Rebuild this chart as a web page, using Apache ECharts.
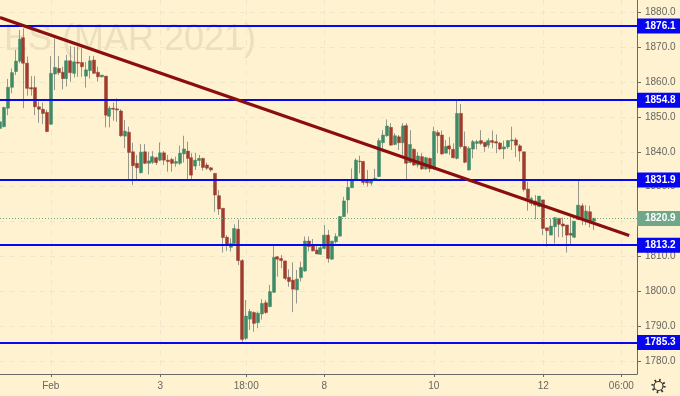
<!DOCTYPE html>
<html>
<head>
<meta charset="utf-8">
<style>html,body{margin:0;padding:0;background:#fff2d0}#c{width:680px;height:396px}</style>
<script src="https://cdn.jsdelivr.net/npm/echarts@6/dist/echarts.min.js"></script>
</head>
<body>
<div id="c"></div>
<script>
const opens = [1846.7,1847.2,1852.5,1858.5,1863.0,1866.0,1872.7,1865.4,1858.4,1858.4,
1852.9,1852.2,1851.3,1847.9,1862.3,1863.9,1862.8,1861.0,1866.1,1862.5,
1865.7,1865.6,1861.7,1863.3,1866.3,1862.8,1861.5,1861.7,1850.2,1852.5,
1852.3,1851.7,1844.5,1845.6,1840.0,1836.7,1834.0,1840.0,1836.7,1837.0,
1838.3,1837.6,1839.7,1837.6,1837.8,1836.7,1836.7,1839.4,1840.2,1838.3,
1835.9,1837.5,1838.1,1836.2,1835.4,1833.8,1827.4,1823.8,1815.5,1812.6,
1813.7,1817.8,1808.8,1786.5,1792.0,1793.9,1791.0,1793.5,1796.7,1795.6,
1799.7,1809.9,1809.4,1808.7,1804.0,1803.2,1800.4,1803.9,1805.8,1814.4,
1813.1,1811.8,1810.6,1812.3,1816.1,1809.2,1814.2,1815.8,1821.4,1826.2,
1829.7,1832.1,1837.3,1837.2,1832.1,1831.0,1832.1,1832.9,1842.6,1844.6,
1847.0,1842.1,1844.3,1842.6,1847.5,1836.9,1840.7,1836.2,1838.6,1835.1,
1838.1,1835.3,1845.5,1844.8,1839.6,1841.7,1840.7,1838.1,1851.0,1841.5,
1834.8,1840.8,1842.4,1843.2,1842.7,1841.9,1843.2,1842.9,1842.5,1840.8,
1841.4,1843.1,1843.4,1841.7,1840.0,1829.3,1825.2,1825.9,1824.3,1826.2,
1818.2,1816.1,1818.5,1820.9,1819.3,1819.0,1816.6,1815.5,1820.6,1824.5,
1820.2,1822.8,1820.1];
const closes = [1848.6,1852.7,1858.5,1862.7,1866.0,1872.3,1865.4,1858.2,1858.0,1852.9,
1852.2,1851.0,1845.8,1862.5,1864.2,1862.7,1861.0,1866.1,1862.7,1865.8,
1865.4,1864.4,1863.5,1866.1,1862.5,1861.5,1862.0,1850.5,1852.5,1852.2,
1852.0,1844.6,1845.9,1839.8,1836.0,1835.4,1839.9,1836.7,1837.4,1838.6,
1836.9,1839.7,1837.6,1837.2,1836.7,1837.2,1839.6,1840.8,1838.1,1833.3,
1837.6,1838.1,1835.5,1835.3,1834.8,1827.6,1823.6,1815.4,1813.3,1813.7,
1818.0,1808.8,1786.2,1792.9,1794.2,1790.8,1793.7,1796.5,1793.9,1799.9,
1809.7,1809.2,1808.8,1803.7,1802.8,1800.6,1803.5,1806.8,1814.4,1812.8,
1811.6,1810.7,1812.5,1816.1,1809.4,1814.4,1815.7,1821.4,1825.9,1829.8,
1832.1,1837.6,1837.2,1831.2,1831.1,1832.1,1832.4,1843.2,1844.8,1847.4,
1841.9,1844.6,1842.6,1847.4,1836.7,1842.1,1836.2,1838.8,1835.1,1838.3,
1835.1,1845.8,1844.6,1839.4,1841.5,1840.8,1838.3,1851.0,1841.5,1837.0,
1841.0,1842.9,1842.9,1842.4,1841.5,1843.2,1842.7,1842.5,1840.8,1841.4,
1843.2,1843.4,1841.9,1840.2,1829.2,1826.6,1826.6,1824.7,1827.3,1818.0,
1817.4,1818.7,1821.1,1819.2,1818.7,1816.1,1816.1,1820.1,1824.7,1820.6,
1823.0,1820.0,1820.9];
const highs = [1849.5,1852.9,1860.9,1863.9,1869.2,1874.9,1875.4,1867.3,1861.7,1861.7,
1854.4,1854.1,1852.0,1867.5,1872.5,1867.5,1864.4,1867.8,1870.3,1870.1,
1870.1,1869.9,1865.8,1867.5,1867.5,1864.4,1862.0,1861.7,1853.1,1854.1,
1855.3,1852.2,1849.1,1847.2,1842.6,1839.1,1842.2,1842.2,1840.0,1840.2,
1838.6,1842.7,1840.2,1839.1,1838.3,1838.6,1841.8,1844.6,1842.9,1839.6,
1839.7,1839.1,1838.3,1836.9,1835.7,1833.8,1829.0,1823.8,1816.1,1815.2,
1819.2,1820.6,1809.2,1797.5,1794.9,1794.2,1794.2,1797.7,1797.5,1801.8,
1813.1,1810.1,1810.4,1808.7,1806.3,1808.3,1806.1,1808.5,1815.7,1815.7,
1815.0,1813.3,1813.3,1819.0,1817.6,1814.4,1816.6,1821.6,1827.1,1832.1,
1835.2,1838.1,1838.9,1837.4,1834.8,1832.1,1835.1,1843.9,1846.2,1849.3,
1848.2,1845.3,1844.8,1848.2,1848.2,1846.2,1841.0,1840.0,1839.6,1838.6,
1838.3,1847.2,1846.2,1846.1,1843.4,1844.3,1842.4,1854.6,1853.7,1845.8,
1841.5,1843.4,1843.4,1846.2,1842.9,1843.9,1846.1,1845.0,1842.8,1843.2,
1843.4,1847.2,1844.0,1842.2,1840.0,1831.4,1827.1,1827.6,1827.3,1826.2,
1818.2,1820.9,1821.1,1821.1,1821.1,1819.0,1821.4,1820.1,1831.6,1825.2,
1824.7,1824.5,1821.1];
const lows = [1843.9,1847.0,1850.5,1856.8,1862.0,1865.4,1852.5,1856.1,1856.1,1850.5,
1848.3,1848.0,1845.6,1847.7,1857.7,1862.0,1857.9,1858.7,1860.1,1861.3,
1861.5,1861.5,1858.4,1861.0,1862.5,1860.1,1861.3,1847.0,1847.0,1848.9,
1848.6,1844.3,1841.0,1832.1,1830.5,1832.1,1833.8,1836.5,1833.5,1836.5,
1836.2,1837.3,1836.2,1834.3,1834.3,1835.7,1836.2,1836.9,1832.1,1832.1,
1834.8,1835.9,1834.6,1834.8,1834.3,1822.8,1821.9,1811.1,1811.6,1811.4,
1813.3,1807.5,1785.5,1786.0,1788.9,1788.4,1789.4,1791.9,1793.5,1795.4,
1799.6,1804.2,1806.6,1803.2,1801.3,1794.0,1796.5,1802.8,1805.6,1811.4,
1811.4,1810.7,1810.4,1812.0,1808.2,1809.0,1813.7,1815.8,1821.4,1822.3,
1829.7,1832.1,1833.8,1830.5,1830.0,1830.3,1831.9,1832.7,1840.0,1844.3,
1841.8,1841.9,1840.5,1839.1,1832.1,1836.7,1835.9,1835.5,1834.8,1834.8,
1834.1,1834.8,1839.6,1839.1,1839.6,1839.1,1838.1,1837.8,1841.0,1836.7,
1834.6,1838.1,1840.7,1841.9,1840.0,1841.0,1841.0,1839.6,1840.5,1837.9,
1840.8,1840.5,1838.5,1837.2,1828.6,1823.1,1824.5,1820.6,1824.1,1816.1,
1812.8,1816.1,1813.7,1815.5,1815.5,1811.1,1813.5,1815.2,1820.4,1819.0,
1819.0,1818.3,1817.6];

const levels = [1876.1, 1854.8, 1831.9, 1813.2, 1785.3];
const lastPrice = 1820.9;
const trendX = [0, 161];
const trendY = [1878.5, 1816.0];
const slotCount = 164;
const xTickIndex = [13, 41, 63, 83, 111, 139, 159];
const xTickLabels = ['Feb', '3', '18:00', '8', '10', '12', '06:00'];
const yTicks = [1780, 1790, 1800, 1810, 1820, 1830, 1840, 1850, 1860, 1870, 1880];
const watermark = 'ES (MAR 2021)';

const categories = Array.from({length: slotCount}, (_, i) => {
  const k = xTickIndex.indexOf(i);
  return k >= 0 ? xTickLabels[k] : '';
});
const isTick = (i) => xTickIndex.indexOf(i) >= 0;
const wicks = opens.map((o, i) => [o, closes[i], lows[i], highs[i]]);
const bodies = opens.map((o, i) => [o, closes[i], Math.min(o, closes[i]), Math.max(o, closes[i])]);

const GREEN = '#3f8b68', RED = '#9e3d2e', WICK = '#96968b', BLUE = '#0606f0', GRID = '#efe6cc', AXIS = '#6a6a66', TXT = '#666662';
const FONT = '"Liberation Sans", Arial, sans-serif';

const levelLabel = (bg, color) => ({
  show: true, position: 'end', distance: 0,
  formatter: (p) => Number(p.value).toFixed(1),
  color, backgroundColor: bg, fontFamily: FONT, fontSize: 10, fontWeight: 'bold',
  width: 35, height: 15, lineHeight: 15, padding: [0, 0, 0, 8], align: 'left', verticalAlign: 'middle'
});

const chart = echarts.init(document.getElementById('c'), null, {renderer: 'canvas', width: 680, height: 396});
chart.setOption({
  animation: false,
  backgroundColor: '#fff2d0',
  grid: {left: 0, top: 0, width: 637, height: 374, containLabel: false, outerBoundsMode: 'none'},
  xAxis: {
    type: 'category', data: categories, boundaryGap: false,
    axisLine: {show: true, onZero: false, lineStyle: {color: AXIS, width: 1}},
    axisTick: {show: true, length: 3, interval: (i) => isTick(i), lineStyle: {color: AXIS}},
    axisLabel: {show: true, interval: 0, color: TXT, fontFamily: FONT, fontSize: 10, margin: 7, hideOverlap: false},
    splitLine: {show: true, interval: (i) => isTick(i), lineStyle: {color: GRID, type: [5, 5], width: 1}}
  },
  yAxis: {
    type: 'value', position: 'right', min: 1776.27, max: 1883.53, scale: true,
    axisLine: {show: true, lineStyle: {color: AXIS, width: 1}},
    axisTick: {show: true, length: 4, customValues: yTicks, lineStyle: {color: AXIS}},
    axisLabel: {show: true, customValues: yTicks, color: TXT, fontFamily: FONT, fontSize: 10, margin: 8,
      formatter: (v) => Number(v).toFixed(1)},
    splitLine: {show: true, lineStyle: {color: GRID, type: [5, 5], width: 1}}
  },
  graphic: [
    {type: 'text', z: 0, silent: true, style: {text: watermark, x: 256, y: 40, align: 'right', verticalAlign: 'middle',
      font: '36px ' + FONT, fill: 'rgba(120,112,90,0.15)'}},
    {type: 'circle', silent: true, z: 10, shape: {cx: 658.5, cy: 386, r: 4.5}, style: {fill: 'none', stroke: '#333', lineWidth: 1.2}},
    {type: 'circle', silent: true, z: 10, shape: {cx: 658.5, cy: 386, r: 6}, style: {fill: 'none', stroke: '#333', lineWidth: 2.4, lineDash: [1.6, 3.1]}}
  ],
  series: [
    {type: 'candlestick', data: wicks, barWidth: 1, z: 2,
      itemStyle: {color: WICK, color0: WICK, borderColor: WICK, borderColor0: WICK, borderColorDoji: WICK, borderWidth: 1}},
    {type: 'candlestick', data: bodies, barWidth: 3.5, z: 3,
      itemStyle: {color: GREEN, color0: RED, borderColor: GREEN, borderColor0: RED, borderColorDoji: RED, borderWidth: 0.5}},
    {type: 'line', data: [], z: 4, silent: true,
      markLine: {silent: true, symbol: 'none', animation: false, z: 6,
        lineStyle: {color: BLUE, width: 2, type: 'solid'},
        label: levelLabel(BLUE, '#ffffff'),
        data: levels.map((v) => ({yAxis: v}))}},
    {type: 'line', data: [], z: 4, silent: true,
      markLine: {silent: true, symbol: 'none', animation: false, z: 5,
        lineStyle: {color: '#6aa583', width: 1, type: [1, 2]},
        label: levelLabel('#6fa888', '#ffffff'),
        data: [{yAxis: lastPrice}]}},
    {type: 'line', data: trendX.map((x, i) => [x, trendY[i]]), z: 7, silent: true, showSymbol: false, symbol: 'none',
      lineStyle: {color: '#8b0e0e', width: 3}}
  ]
});
</script>
</body>
</html>
